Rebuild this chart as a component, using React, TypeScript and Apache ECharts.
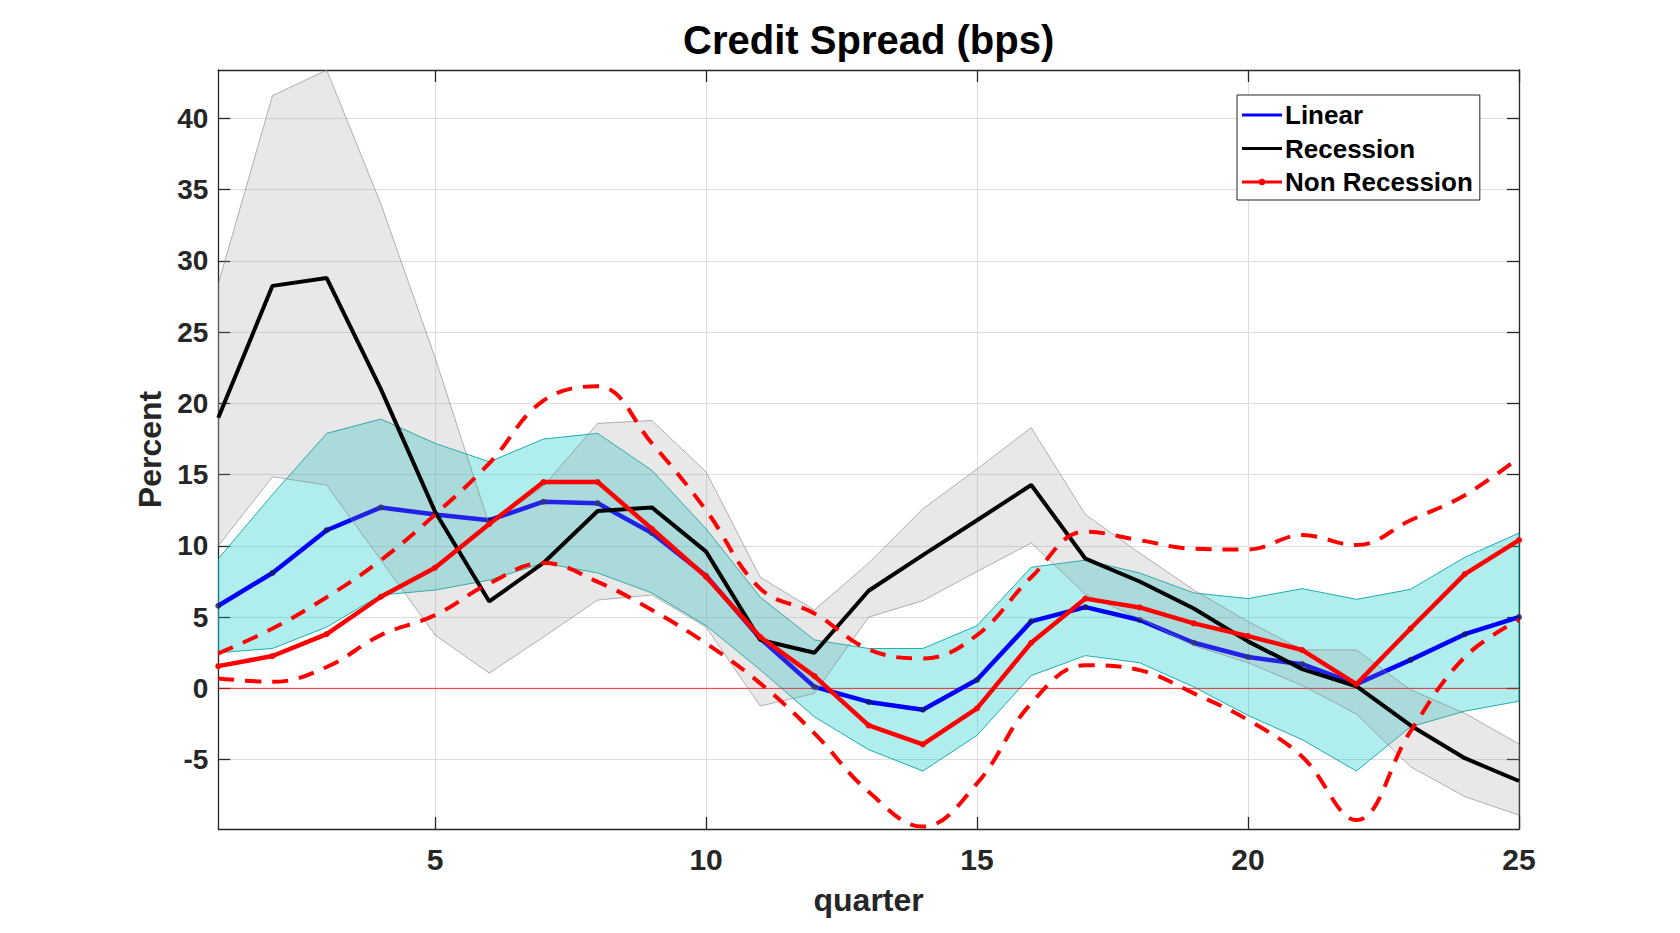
import React, { useEffect, useRef } from "react";
import * as echarts from "echarts";

const quarters = [1, 2, 3, 4, 5, 6, 7, 8, 9, 10, 11, 12, 13, 14, 15, 16, 17, 18, 19, 20, 21, 22, 23, 24, 25];

const linear = [5.8, 8.1, 11.1, 12.7, 12.2, 11.8, 13.1, 13.0, 10.9, 7.9, 3.5, 0.1, -0.95, -1.5, 0.6, 4.7, 5.7, 4.8, 3.2, 2.2, 1.7, 0.3, 2.0, 3.8, 5.0];
const linearUpper = [9.1, 13.6, 17.9, 18.9, 17.2, 15.9, 17.5, 17.9, 15.3, 11.2, 6.4, 3.4, 2.8, 2.8, 4.4, 8.5, 9.0, 8.1, 6.7, 6.3, 7.0, 6.25, 6.95, 9.2, 10.9];
const linearLower = [2.5, 2.8, 4.3, 6.55, 6.9, 7.6, 8.8, 8.1, 6.7, 4.4, 1.3, -2.0, -4.3, -5.8, -3.3, 0.9, 2.3, 1.8, 0.1, -1.9, -3.6, -5.8, -2.7, -1.6, -0.9];

const recession = [19.0, 28.25, 28.8, 21.0, 12.4, 6.1, 8.8, 12.45, 12.7, 9.6, 3.4, 2.5, 6.85, 9.35, 11.8, 14.27, 9.1, 7.5, 5.6, 3.3, 1.35, 0.15, -2.6, -4.9, -6.5];
const recessionUpper = [28.4, 41.6, 43.4, 34.0, 23.2, 11.5, 14.2, 18.6, 18.8, 15.2, 7.8, 5.5, 8.8, 12.6, 15.4, 18.3, 12.2, 9.5, 6.9, 4.7, 2.7, 2.7, -0.1, -1.75, -3.9];
const recessionLower = [10.0, 14.85, 14.27, 9.0, 3.74, 1.07, 3.6, 6.2, 6.55, 4.3, -1.24, -0.35, 5.0, 6.15, 8.2, 10.2, 6.6, 4.9, 3.0, 1.8, 0.2, -1.8, -5.5, -7.6, -8.9];

const nonRecession = [1.56, 2.27, 3.81, 6.43, 8.47, 11.53, 14.48, 14.48, 11.2, 7.83, 3.6, 0.86, -2.6, -3.93, -1.4, 3.2, 6.3, 5.68, 4.56, 3.67, 2.69, 0.3, 4.2, 8.02, 10.4];
const nonRecessionUpper = [2.45, 4.2, 6.4, 9.0, 12.2, 15.8, 20.2, 21.2, 17.2, 12.5, 7.0, 5.26, 2.74, 2.1, 3.74, 7.8, 11.0, 10.4, 9.8, 9.75, 10.76, 10.06, 11.8, 13.56, 16.2];
const nonRecessionLower = [0.7, 0.46, 1.5, 3.74, 5.14, 7.37, 8.8, 7.48, 5.5, 3.16, 0.35, -3.16, -7.26, -9.7, -6.67, -1.05, 1.63, 1.28, -0.35, -2.22, -4.8, -9.24, -3.0, 2.2, 4.8];

const xTicks = [5, 10, 15, 20, 25];
const yTicks = [-5, 0, 5, 10, 15, 20, 25, 30, 35, 40];
const zeroLine = [0, 0];
const zeroLineX = [1, 25];

const FONT = "Liberation Sans";
const AXIS_COLOR = "#262626";

const ICON_LINE = "path://M0,0h0.01v0.01h-0.01z M0,5.5h40v3h-40z M40,13.99h0.01v0.01h-0.01z";
const ICON_LINE_DOT =
  "path://M0,0h0.01v0.01h-0.01z M0,5.5h40v3h-40z M23.2,7 A3.2,3.2 0 1 1 16.8,7 A3.2,3.2 0 1 1 23.2,7 Z M40,13.99h0.01v0.01h-0.01z";

function pairs(vals: number[]) {
  return vals.map((v, i) => [quarters[i], v]);
}

function band(name: string, upper: number[], lower: number[], fill: string, stroke: string, z: number) {
  return {
    type: "custom",
    name,
    z,
    silent: true,
    clip: true,
    data: [[quarters[0], upper[0]]],
    renderItem: (_params: any, api: any) => {
      const pts: number[][] = [];
      for (let i = 0; i < upper.length; i++) pts.push(api.coord([quarters[i], upper[i]]));
      for (let i = lower.length - 1; i >= 0; i--) pts.push(api.coord([quarters[i], lower[i]]));
      return {
        type: "polygon",
        shape: { points: pts },
        style: { fill, stroke, lineWidth: 1 },
      };
    },
  };
}

function frameAxis(position: string, min: number, max: number, ticks: number[]) {
  return {
    type: "value",
    min,
    max,
    position,
    axisLine: { show: true, onZero: false, lineStyle: { color: AXIS_COLOR, width: 1.3 } },
    axisTick: { show: true, inside: true, length: 12, customValues: ticks, lineStyle: { color: AXIS_COLOR, width: 1.3 } },
    axisLabel: { show: false },
    splitLine: { show: false },
  };
}

export default function App() {
  const ref = useRef<HTMLDivElement>(null);

  useEffect(() => {
    document.body.style.margin = "0";
    if (!ref.current) return;
    const chart = echarts.init(ref.current, undefined, { renderer: "svg" });

    const tickLabel = { fontFamily: FONT, fontWeight: "bold", color: AXIS_COLOR };

    const option: any = {
      animation: false,
      backgroundColor: "#ffffff",
      title: {
        text: "Credit Spread (bps)",
        left: 863.7,
        top: 15,
        textAlign: "center",
        textStyle: { fontFamily: FONT, fontWeight: "bold", fontSize: 40, color: "#000000" },
      },
      legend: {
        data: [
          { name: "Linear", icon: ICON_LINE },
          { name: "Recession", icon: ICON_LINE },
          { name: "Non Recession", icon: ICON_LINE_DOT },
        ],
        orient: "vertical",
        left: 1237,
        top: 95,
        padding: [7, 7, 5, 5],
        itemGap: 7.5,
        itemWidth: 40,
        itemHeight: 14,
        itemStyle: { borderWidth: 0 },
        backgroundColor: "#ffffff",
        borderColor: "#262626",
        borderWidth: 1,
        borderRadius: 0,
        textStyle: { fontFamily: FONT, fontWeight: "bold", fontSize: 26, lineHeight: 26, color: "#000000", padding: [0, 0, 0, -2] },
      },
      grid: { left: 218.3, top: 70, right: 161, bottom: 104, containLabel: false },
      xAxis: [
        {
          type: "value",
          min: 1,
          max: 25,
          position: "bottom",
          axisLine: { show: true, onZero: false, lineStyle: { color: AXIS_COLOR, width: 1.3 } },
          axisTick: { show: true, inside: true, length: 12, customValues: xTicks, lineStyle: { color: AXIS_COLOR, width: 1.3 } },
          axisLabel: { show: true, customValues: xTicks, margin: 15, fontSize: 30, ...tickLabel },
          splitLine: { show: true, lineStyle: { color: "#dedede", width: 1 } },
          name: "quarter",
          nameLocation: "middle",
          nameGap: 55,
          nameTextStyle: { fontFamily: FONT, fontWeight: "bold", fontSize: 32, color: AXIS_COLOR },
        },
        frameAxis("top", 1, 25, xTicks),
      ],
      yAxis: [
        {
          type: "value",
          min: -9.87,
          max: 43.4,
          position: "left",
          axisLine: { show: true, onZero: false, lineStyle: { color: AXIS_COLOR, width: 1.3 } },
          axisTick: { show: true, inside: true, length: 12, customValues: yTicks, lineStyle: { color: AXIS_COLOR, width: 1.3 } },
          axisLabel: { show: true, customValues: yTicks, margin: 10, fontSize: 28, ...tickLabel },
          splitLine: { show: true, lineStyle: { color: "#dedede", width: 1 } },
          name: "Percent",
          nameLocation: "middle",
          nameGap: 48,
          nameRotate: 90,
          nameTextStyle: { fontFamily: FONT, fontWeight: "bold", fontSize: 32, color: AXIS_COLOR },
        },
        frameAxis("right", -9.87, 43.4, yTicks),
      ],
      series: [
        band("Linear band", linearUpper, linearLower, "rgba(0,200,200,0.31)", "rgba(0,160,160,0.85)", 1),
        {
          type: "line",
          name: "zero",
          data: zeroLineX.map((x, i) => [x, zeroLine[i]]),
          symbol: "none",
          silent: true,
          z: 2,
          lineStyle: { color: "#ff0000", width: 1, opacity: 0.8 },
        },
        {
          type: "line",
          name: "Linear",
          data: pairs(linear),
          symbol: "none",
          z: 3,
          itemStyle: { color: "#0000ff" },
          lineStyle: { color: "#0000ff", width: 4.5 },
        },
        {
          type: "scatter",
          name: "Linear markers",
          data: pairs(linear),
          symbol: "circle",
          symbolSize: 6,
          z: 3,
          silent: true,
          itemStyle: { color: "#1b1b5e" },
        },
        band("Recession band", recessionUpper, recessionLower, "rgba(150,150,150,0.22)", "rgba(130,130,130,0.6)", 4),
        {
          type: "line",
          name: "Recession",
          data: pairs(recession),
          symbol: "none",
          z: 5,
          itemStyle: { color: "#000000" },
          lineStyle: { color: "#000000", width: 4 },
        },
        {
          type: "line",
          name: "NR upper",
          data: pairs(nonRecessionUpper),
          symbol: "none",
          smooth: 0.4,
          z: 6,
          silent: true,
          lineStyle: { color: "#ff0000", width: 4, type: [16, 11] },
        },
        {
          type: "line",
          name: "NR lower",
          data: pairs(nonRecessionLower),
          symbol: "none",
          smooth: 0.4,
          z: 6,
          silent: true,
          lineStyle: { color: "#ff0000", width: 4, type: [16, 11] },
        },
        {
          type: "line",
          name: "Non Recession",
          data: pairs(nonRecession),
          symbol: "circle",
          symbolSize: 6,
          z: 7,
          itemStyle: { color: "#ff0000" },
          lineStyle: { color: "#ff0000", width: 4.5 },
        },
      ],
    };

    chart.setOption(option);
    return () => {
      chart.dispose();
    };
  }, []);

  return <div ref={ref} style={{ width: "1680px", height: "933px" }} />;
}
